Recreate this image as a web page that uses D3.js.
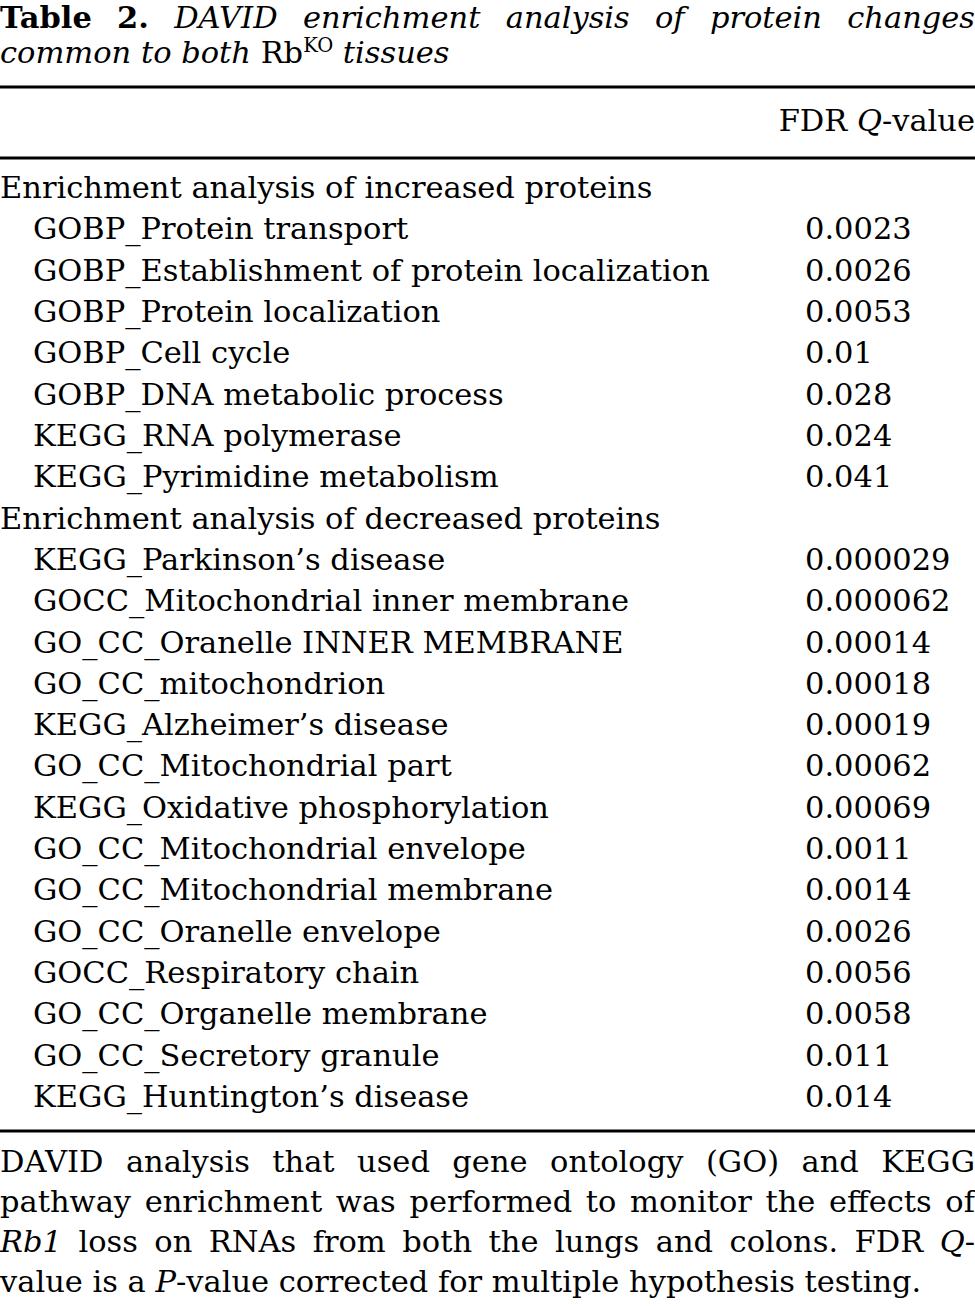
<!DOCTYPE html>
<html>
<head>
<meta charset="utf-8">
<script src="https://cdn.jsdelivr.net/npm/d3@7"></script>
<style>
  body { margin: 0; background: #fff; }
  svg text { font-family: "DejaVu Serif", serif; fill: #000; }
</style>
</head>
<body>
<svg id="tbl"></svg>
<script>
// title / header / footnote text ( *..* = italic, #..# = bold )
const titleLine1 = '#Table# #2.# *DAVID enrichment analysis of protein changes*';
const colHeader = 'FDR *Q*-value';
const groupLabels = ['Enrichment analysis of increased proteins', 'Enrichment analysis of decreased proteins'];

const increasedTerms = [
  'GOBP_Protein transport',
  'GOBP_Establishment of protein localization',
  'GOBP_Protein localization',
  'GOBP_Cell cycle',
  'GOBP_DNA metabolic process',
  'KEGG_RNA polymerase',
  'KEGG_Pyrimidine metabolism'
];
const increasedQ = [0.0023, 0.0026, 0.0053, 0.01, 0.028, 0.024, 0.041];

const decreasedTerms = [
  'KEGG_Parkinson\u2019s disease',
  'GOCC_Mitochondrial inner membrane',
  'GO_CC_Oranelle INNER MEMBRANE',
  'GO_CC_mitochondrion',
  'KEGG_Alzheimer\u2019s disease',
  'GO_CC_Mitochondrial part',
  'KEGG_Oxidative phosphorylation',
  'GO_CC_Mitochondrial envelope',
  'GO_CC_Mitochondrial membrane',
  'GO_CC_Oranelle envelope',
  'GOCC_Respiratory chain',
  'GO_CC_Organelle membrane',
  'GO_CC_Secretory granule',
  'KEGG_Huntington\u2019s disease'
];
const decreasedQ = [0.000029, 0.000062, 0.00014, 0.00018, 0.00019, 0.00062, 0.00069,
  0.0011, 0.0014, 0.0026, 0.0056, 0.0058, 0.011, 0.014];

const footnoteLines = [
  'DAVID analysis that used gene ontology (GO) and KEGG',
  'pathway enrichment was performed to monitor the effects of',
  '*Rb1* loss on RNAs from both the lungs and colons. FDR *Q*-',
  'value is a *P*-value corrected for multiple hypothesis testing.'
];

const W = 975, H = 1306;
const margin = { left: 0, indent: 33, valueX: 805 };

const svg = d3.select('#tbl').attr('width', W).attr('height', H);

// size the type so the longest term spans the same width as in the print
const probe = svg.append('text').style('font-size', '28px').text(increasedTerms[1]);
const fs = 28 * 677 / probe.node().getComputedTextLength();
probe.remove();
svg.style('font-size', fs + 'px');

// split marked-up string into words made of styled runs
function parseWords(str) {
  let it = false, b = false;
  const words = [[]];
  for (const ch of str) {
    if (ch === '*') { it = !it; continue; }
    if (ch === '#') { b = !b; continue; }
    if (ch === ' ') { words.push([]); continue; }
    const w = words[words.length - 1];
    const last = w[w.length - 1];
    if (last && last.i === it && last.b === b) last.t += ch;
    else w.push({ t: ch, i: it, b: b });
  }
  return words.filter(w => w.length);
}

function addRuns(textSel, runs) {
  runs.forEach(r => textSel.append('tspan')
    .attr('font-style', r.i ? 'italic' : null)
    .attr('font-weight', r.b ? 'bold' : null)
    .text(r.t));
}

// justified line: words spread from x0 to x1 (last line keeps natural spacing)
function textLine(str, y, x0, x1, justify) {
  const g = svg.append('g');
  const words = parseWords(str);
  const nodes = words.map(w => {
    const t = g.append('text').attr('y', y);
    addRuns(t, w);
    return t;
  });
  const widths = nodes.map(n => n.node().getComputedTextLength());
  const sp = g.append('text').text('a a');
  const spaceW = sp.node().getComputedTextLength() - 2 * g.append('text').text('a').node().getComputedTextLength();
  g.selectAll('text:not([y])').remove();
  const gap = justify ? (x1 - x0 - d3.sum(widths)) / (words.length - 1) : spaceW;
  let x = x0;
  nodes.forEach((n, i) => { n.attr('x', x); x += widths[i] + gap; });
}

// title
textLine(titleLine1, 28, 0, W, true);
const t2 = svg.append('text').attr('x', 0).attr('y', 63);
t2.append('tspan').attr('font-style', 'italic').text('common to both ');
t2.append('tspan').text('Rb');
t2.append('tspan').attr('dy', -11).style('font-size', '0.64em').text('KO');
t2.append('tspan').attr('dy', 11).attr('font-style', 'italic').text(' tissues');

// rules
const rules = [87, 158, 1131];
svg.selectAll('line.rule').data(rules).join('line')
  .attr('class', 'rule')
  .attr('x1', 0).attr('x2', W)
  .attr('y1', d => d).attr('y2', d => d)
  .attr('stroke', '#000').attr('stroke-width', 3);

// column header
const hd = svg.append('text').attr('x', W).attr('y', 131).attr('text-anchor', 'end');
parseWords(colHeader).forEach((w, i) => {
  if (i > 0) hd.append('tspan').text(' ');
  addRuns(hd, w);
});

// body rows
const rows = [{ group: true, label: groupLabels[0] }]
  .concat(increasedTerms.map((t, i) => ({ label: t, q: increasedQ[i] })))
  .concat([{ group: true, label: groupLabels[1] }])
  .concat(decreasedTerms.map((t, i) => ({ label: t, q: decreasedQ[i] })));

const y = d3.scalePoint().domain(d3.range(rows.length)).range([198, 1107]);

const body = svg.append('g');
const row = body.selectAll('g.row').data(rows).join('g')
  .attr('class', 'row')
  .attr('transform', (d, i) => `translate(0,${y(i)})`);

row.append('text')
  .attr('x', d => d.group ? margin.left : margin.indent)
  .text(d => d.label);

row.filter(d => !d.group).append('text')
  .attr('x', margin.valueX)
  .text(d => String(d.q));

// footnote
footnoteLines.forEach((s, i) => {
  textLine(s, 1172 + i * 40, 0, W, i < footnoteLines.length - 1);
});
</script>
</body>
</html>
